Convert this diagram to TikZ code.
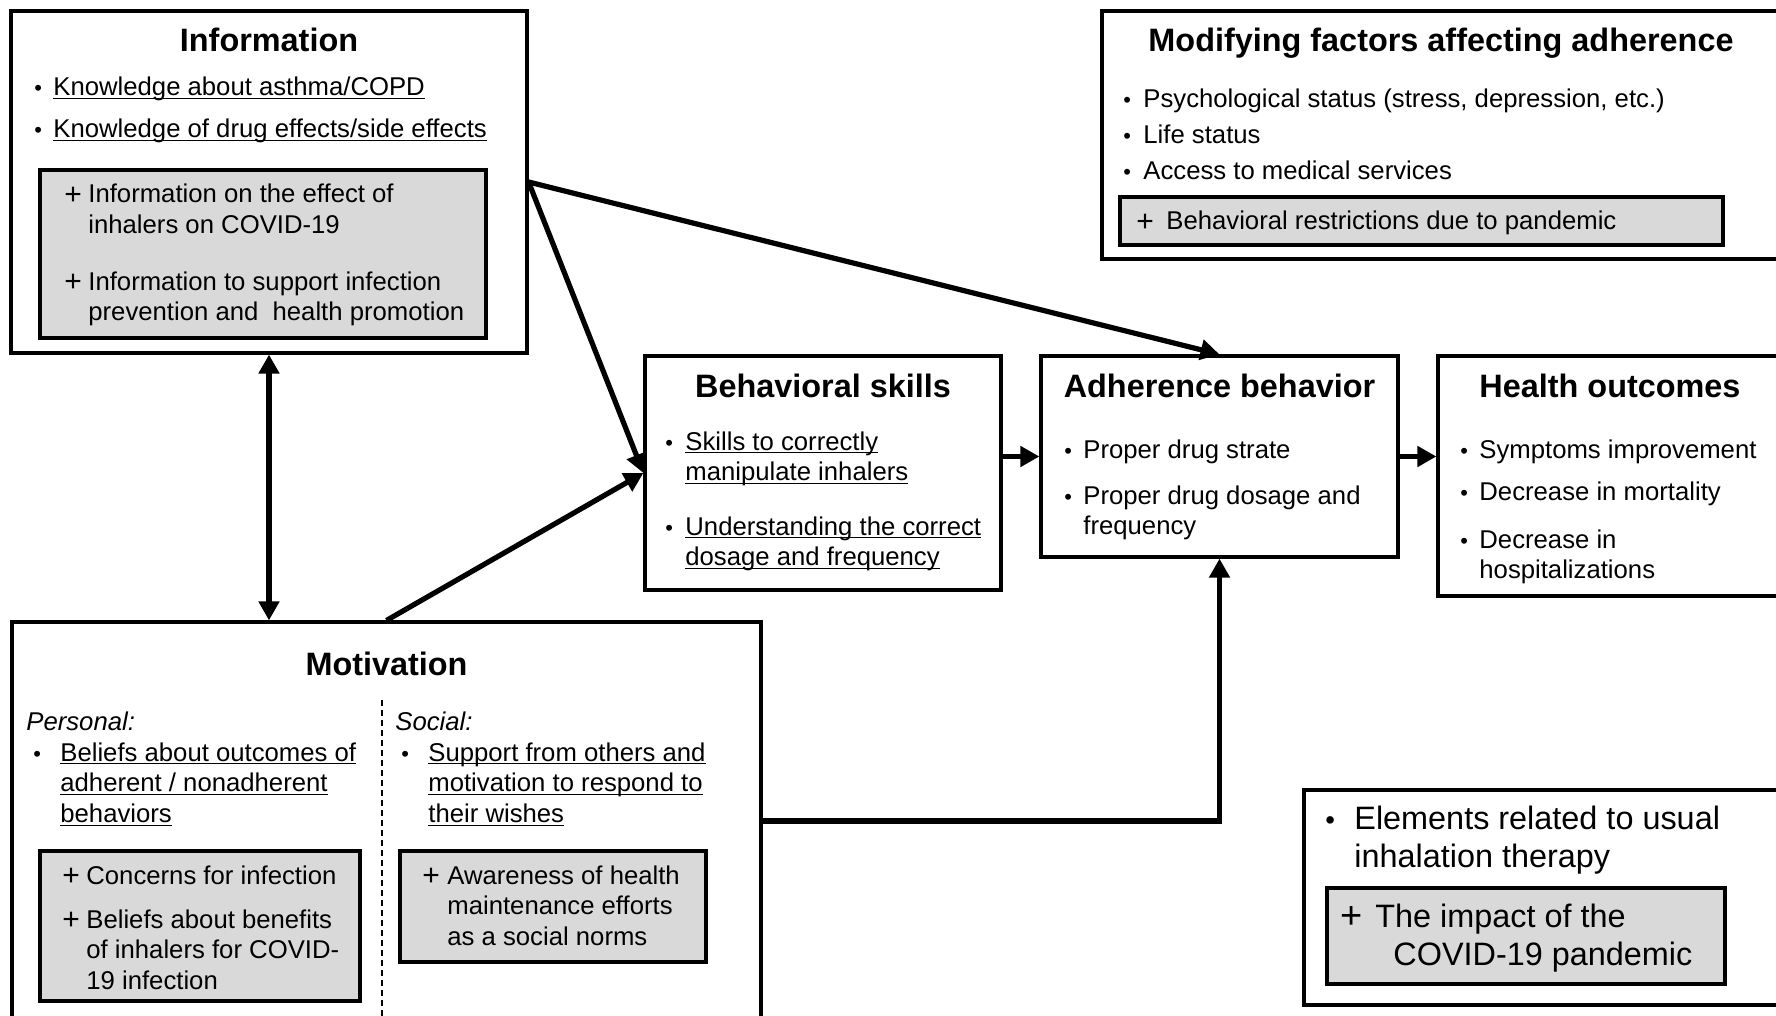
\documentclass[tikz,border=0pt]{standalone}
\usepackage{fontspec}
\setmainfont{Liberation Sans}
\usepackage{tikz}
\usetikzlibrary{arrows.meta,positioning}

\definecolor{boxgray}{HTML}{D9D9D9}
\newsavebox{\undlbox}
\newcommand{\undl}[1]{\sbox{\undlbox}{#1}\rlap{\rule[-1.7pt]{\wd\undlbox}{0.55pt}}\usebox{\undlbox}}
\newcommand{\blt}[1]{\makebox[#1][l]{\scalebox{0.85}{•}}}
\newcommand{\pls}[1]{\makebox[#1][l]{\fontsize{15}{15}\selectfont\raisebox{-0.6pt}{+}}}
\newcommand{\bigpls}[1]{\makebox[#1][l]{\fontsize{19}{19}\selectfont\raisebox{-0.8pt}{+}}}

\tikzset{
	frame/.style={draw, line width=1.6pt, inner sep=0pt},
	graybox/.style={frame, fill=boxgray},
	title/.style={anchor=base, inner sep=0pt, font=\fontsize{16.2}{19}\selectfont\bfseries},
	txt/.style={anchor=base west, inner sep=0pt, font=\fontsize{12.85}{15.3}\selectfont},
	bigtxt/.style={anchor=base west, inner sep=0pt, font=\fontsize{16.2}{19}\selectfont},
	link/.style={line width=2.6pt, -{Triangle[length=9.5pt,width=10pt]}}
}

\begin{document}
\begin{tikzpicture}[x=0.5pt, y=-0.5pt]
		\clip (0,0) rectangle (1776,1016);
		\fill[white] (0,0) rectangle (1776,1016);

		\node[frame, minimum width=258pt, minimum height=171pt] (info) at (269,182) {};
		\node[graybox, minimum width=223pt, minimum height=84pt] (infog) at (263,254) {};
		\node[title] (infot) at (269,52) {Information};
		\node[txt] (info1) at (34,96) {\blt{9.5pt}\undl{Knowledge about asthma/COPD}};
		\node[txt] (info2) at (34,138) {\blt{9.5pt}\undl{Knowledge of drug effects/side effects}};
		\node[txt] (info3) at (64,203) {\pls{12pt}\begin{tabular}[t]{@{}l@{}}Information on the effect of\\inhalers on COVID-19\end{tabular}};
		\node[txt] (info4) at (64,290) {\pls{12pt}\begin{tabular}[t]{@{}l@{}}Information to support infection\\prevention and \ health promotion\end{tabular}};

		\node[frame, minimum width=339pt, minimum height=124pt] (mod) at (1441,135) {};
		\node[graybox, minimum width=301.5pt, minimum height=24pt] (modg) at (1421.5,221) {};
		\node[title] (modt) at (1441,52) {Modifying factors affecting adherence};
		\node[txt] (mod1) at (1123,108) {\blt{10pt}Psychological status (stress, depression, etc.)};
		\node[txt] (mod2) at (1123,144) {\blt{10pt}Life status};
		\node[txt] (mod3) at (1123,180) {\blt{10pt}Access to medical services};
		\node[txt] (mod4) at (1136,230) {\pls{15pt}Behavioral restrictions due to pandemic};

		\node[frame, minimum width=178pt, minimum height=117pt] (beh) at (823,473) {};
		\node[title] (beht) at (823,397) {Behavioral skills};
		\node[txt] (beh1) at (665,450) {\blt{10pt}\begin{tabular}[t]{@{}l@{}}\undl{Skills to correctly}\\\undl{manipulate inhalers}\end{tabular}};
		\node[txt] (beh2) at (665,535) {\blt{10pt}\begin{tabular}[t]{@{}l@{}}\undl{Understanding the correct}\\\undl{dosage and frequency}\end{tabular}};

		\node[frame, minimum width=178.5pt, minimum height=100.5pt] (adh) at (1219.5,456.5) {};
		\node[title] (adht) at (1219.5,397) {Adherence behavior};
		\node[txt] (adh1) at (1064,458) {\blt{9.5pt}Proper drug strate};
		\node[txt] (adh2) at (1064,504) {\blt{9.5pt}\begin{tabular}[t]{@{}l@{}}Proper drug dosage and\\frequency\end{tabular}};

		\node[frame, minimum width=172pt, minimum height=120pt] (hlth) at (1610,476) {};
		\node[title] (hltht) at (1610,397) {Health outcomes};
		\node[txt] (hlth1) at (1460,458) {\blt{9.5pt}Symptoms improvement};
		\node[txt] (hlth2) at (1460,500) {\blt{9.5pt}Decrease in mortality};
		\node[txt] (hlth3) at (1460,548) {\blt{9.5pt}\begin{tabular}[t]{@{}l@{}}Decrease in\\hospitalizations\end{tabular}};

		\node[frame, minimum width=374.5pt, minimum height=199pt] (mot) at (386.5,821) {};
		\node[graybox, minimum width=160pt, minimum height=75pt] (motg1) at (200,926) {};
		\node[graybox, minimum width=153pt, minimum height=55.5pt] (motg2) at (553,906.5) {};
		\node[title] (mott) at (386.5,675) {Motivation};
		\node[txt] (pers) at (26,730) {\itshape Personal:};
		\node[txt] (soc) at (395,730) {\itshape Social:};
		\node[txt] (pers1) at (33,761) {\blt{13.5pt}\begin{tabular}[t]{@{}l@{}}\undl{Beliefs about outcomes of}\\\undl{adherent / nonadherent}\\\undl{behaviors}\end{tabular}};
		\node[txt] (soc1) at (401,761) {\blt{13.5pt}\begin{tabular}[t]{@{}l@{}}\undl{Support from others and}\\\undl{motivation to respond to}\\\undl{their wishes}\end{tabular}};
		\node[txt] (pers2) at (62,884) {\pls{12pt}Concerns for infection};
		\node[txt] (pers3) at (62,928) {\pls{12pt}\begin{tabular}[t]{@{}l@{}}Beliefs about benefits\\of inhalers for COVID-\\19 infection\end{tabular}};
		\node[txt] (soc2) at (422,884) {\pls{12.5pt}\begin{tabular}[t]{@{}l@{}}Awareness of health\\maintenance efforts\\as a social norms\end{tabular}};
		\draw[line width=0.6pt, dash pattern=on 3pt off 2pt] (382,700) -- (382,1016);

		\node[frame, minimum width=243pt, minimum height=107.5pt] (leg) at (1547,897.5) {};
		\node[graybox, minimum width=199pt, minimum height=48pt] (legg) at (1526,936) {};
		\node[bigtxt] (leg1) at (1325,829) {\blt{14.5pt}\begin{tabular}[t]{@{}l@{}}Elements related to usual\\inhalation therapy\end{tabular}};
		\node[bigtxt] (leg2) at (1340,927) {\bigpls{17.5pt}\begin{tabular}[t]{@{}l@{}}The impact of the\\\hspace*{9pt}COVID-19 pandemic\end{tabular}};

		\draw[link] (info.east) -- (beh.west);
		\draw[link] (info.east) -- (adh.north);
		\draw[link] (mot.north) -- (beh.west);
		\draw[link, {Triangle[length=9.5pt,width=10pt]}-{Triangle[length=9.5pt,width=10pt]}] (info.south) -- (info.south |- mot.north);
		\draw[link] (adh.west -| beh.east) -- (adh.west);
		\draw[link] (adh.east) -- (adh.east -| hlth.west);
		\draw[link] (mot.east) -| (adh.south);
\end{tikzpicture}
\end{document}
